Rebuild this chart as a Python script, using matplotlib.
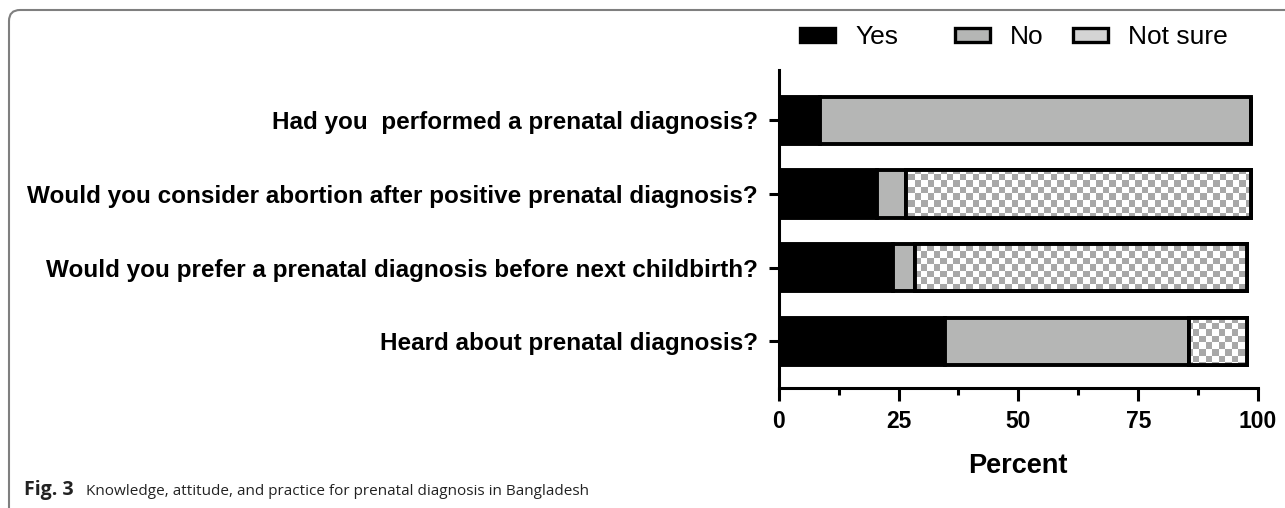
import numpy as np
import matplotlib.pyplot as plt
from matplotlib.patches import FancyBboxPatch, Patch
from matplotlib.colors import ListedColormap

plt.rcParams['font.family'] = ['Liberation Sans', 'DejaVu Sans']

questions = ['Heard about prenatal diagnosis?',
             'Would you prefer a prenatal diagnosis before next childbirth?',
             'Would you consider abortion after positive prenatal diagnosis?',
             'Had you  performed a prenatal diagnosis?']
yes = [34.6, 23.9, 20.6, 8.7]
no = [51.1, 4.6, 6.0, 89.9]
not_sure = [12.1, 69.3, 72.0, 0.0]
series = ['Yes', 'No', 'Not sure']

fig = plt.figure(figsize=(12.85, 5.08), dpi=100)
ax = fig.add_axes([0.606, 0.236, 0.373, 0.626])

y = np.arange(len(questions))
h = 0.64
lw = 2.8
ax.barh(y, yes, h, color='black', edgecolor='black', linewidth=lw)
ax.barh(y, no, h, left=yes, color='#b5b6b5', edgecolor='black', linewidth=lw)
left_ns = np.array(yes) + np.array(no)
ns_bars = ax.barh(y, not_sure, h, left=left_ns, color='white',
                  edgecolor='black', linewidth=lw)

# checkerboard fill for "Not sure"
ax.set_xlim(0, 100)
ax.set_ylim(-0.635, 3.68)
nx, ny = 74, 49
checker = (np.add.outer(np.arange(ny), np.arange(nx)) % 2).astype(float)
cmap = ListedColormap(['#a8a8a8', '#ffffff'])
for b in ns_bars:
    if b.get_width() <= 0:
        continue
    im = ax.imshow(checker, cmap=cmap, vmin=0, vmax=1, extent=(0, 100, -0.635, 3.68),
                   aspect='auto', interpolation='nearest', zorder=b.get_zorder() + 0.1)
    im.set_clip_path(b)
    ax.add_patch(plt.Rectangle(b.get_xy(), b.get_width(), b.get_height(), fill=False,
                               edgecolor='black', linewidth=lw, zorder=b.get_zorder() + 0.2))
ax.set_xlim(0, 100)
ax.set_ylim(-0.635, 3.68)

ax.set_yticks(y)
ax.set_yticklabels(questions, fontsize=17.45, fontweight='bold')
ax.set_xticks([0, 25, 50, 75, 100])
ax.set_xticks([12.5, 37.5, 62.5, 87.5], minor=True)
ax.tick_params(axis='x', which='major', length=9, width=2.2, labelsize=16.5, pad=7)
ax.tick_params(axis='x', which='minor', length=5, width=2.2)
ax.tick_params(axis='y', length=7, width=2.2, pad=8)
for lab in ax.get_xticklabels():
    lab.set_fontweight('bold')
ax.set_xlabel('Percent', fontsize=19.5, fontweight='bold', labelpad=14)
for s in ['top', 'right']:
    ax.spines[s].set_visible(False)
for s in ['left', 'bottom']:
    ax.spines[s].set_linewidth(2.2)

handles = [Patch(facecolor='black', edgecolor='black', linewidth=2.4),
           Patch(facecolor='#b5b6b5', edgecolor='black', linewidth=2.4),
           Patch(facecolor='#d4d4d4', edgecolor='black', linewidth=2.4)]
leg_x = [0.6226, 0.743, 0.835]
for hd, name, lx in zip(handles, series, leg_x):
    fig.legend([hd], [name], frameon=False, fontsize=19, loc='center left',
               bbox_to_anchor=(lx, 0.927), borderpad=0, borderaxespad=0,
               handlelength=1.33, handleheight=0.45, handletextpad=0.76)

frame = FancyBboxPatch((0.09, -0.5), 20, (508 - 10) / 100 + 0.5,
                       boxstyle='round,pad=0,rounding_size=0.11',
                       transform=fig.dpi_scale_trans,
                       fill=False, edgecolor='#7f7f7f', linewidth=1.5)
fig.patches.append(frame)

fig.text(0.019, 0.026, 'Fig. 3', fontsize=14, fontweight='bold', family='Open Sans',
         color='#222222')
fig.text(0.067, 0.026, 'Knowledge, attitude, and practice for prenatal diagnosis in Bangladesh',
         fontsize=11, family='Open Sans', color='#222222')

fig.savefig('out.png', dpi=100)
